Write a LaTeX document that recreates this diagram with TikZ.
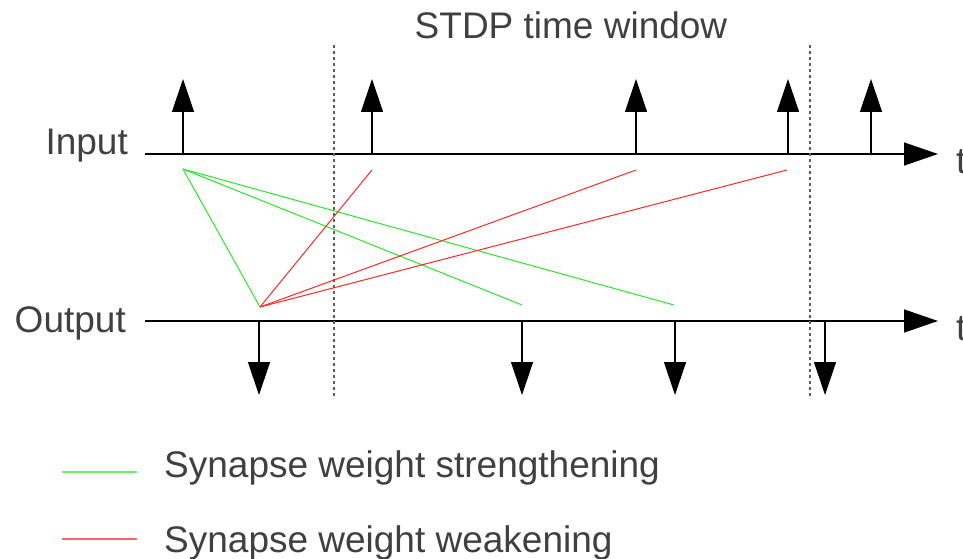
\documentclass[tikz,border=0pt]{standalone}
\usepackage{fontspec}
\setmainfont{Liberation Sans}
\usetikzlibrary{arrows.meta}
\definecolor{txt}{HTML}{404040}
\definecolor{strong}{RGB}{40,230,40}
\definecolor{weak}{RGB}{255,40,40}
\definecolor{legstrong}{RGB}{100,245,100}
\definecolor{legweak}{RGB}{255,100,100}
\definecolor{win}{HTML}{606060}
\begin{document}
\begin{tikzpicture}[x=1pt,y=-1pt,
  lbl/.style={font=\fontsize{37}{44}\selectfont, text=txt, inner sep=0pt},
  axisline/.style={line width=1.4pt, -{Triangle[length=34pt,width=23pt]}},
  spike/.style={line width=1.3pt, -{Triangle[length=33pt,width=22pt]}},
  window/.style={win, line width=1.3pt, dash pattern=on 3pt off 3pt},
  plus/.style={strong, line width=1pt},
  minus/.style={weak, line width=1pt},
  legplus/.style={legstrong, line width=1.8pt},
  legminus/.style={legweak, line width=1.8pt}]
\useasboundingbox (0,0) rectangle (963,559);

% labels
\node[lbl, anchor=base] (title) at (571,39) {STDP time window};
\node[lbl, anchor=base east] (inlbl) at (128,154) {Input};
\node[lbl, anchor=base east] (outlbl) at (126,332) {Output};
\node[lbl, anchor=base west] (tin) at (956,173) {t};
\node[lbl, anchor=base west] (tout) at (956,340) {t};

% axes
\coordinate (in0) at (145,154);
\coordinate (in1) at (938,154);
\coordinate (out0) at (145,321);
\coordinate (out1) at (938,321);
\draw[axisline] (in0) -- (in1);
\draw[axisline] (out0) -- (out1);

% time window
\coordinate (w1a) at (334,45);
\coordinate (w1b) at (334,397);
\coordinate (w2a) at (810,45);
\coordinate (w2b) at (810,397);
\draw[window] (w1a) -- (w1b);
\draw[window] (w2a) -- (w2b);

% input spikes
\foreach \n/\x in {i1/183, i2/372, i3/636, i4/788, i5/871} {
  \coordinate (\n b) at (\x,154);
  \coordinate (\n t) at (\x,79);
  \draw[spike] (\n b) -- (\n t);
}
% output spikes
\foreach \n/\x in {o1/259, o2/522, o3/675, o4/825} {
  \coordinate (\n b) at (\x,321);
  \coordinate (\n t) at (\x,395);
  \draw[spike] (\n b) -- (\n t);
}

% pairings
\coordinate (pin) at (183,169);
\coordinate (pout) at (260,307);
\coordinate (g1) at (522,305);
\coordinate (g2) at (674,305);
\coordinate (r1) at (372,170);
\coordinate (r2) at (636,170);
\coordinate (r3) at (787,170);
\draw[plus] (pin) -- (pout);
\draw[plus] (pin) -- (g1);
\draw[plus] (pin) -- (g2);
\draw[minus] (pout) -- (r1);
\draw[minus] (pout) -- (r2);
\draw[minus] (pout) -- (r3);

% legend
\coordinate (lg1a) at (62,472);
\coordinate (lg1b) at (137,472);
\coordinate (lg2a) at (62,539);
\coordinate (lg2b) at (137,539);
\draw[legplus] (lg1a) -- (lg1b);
\draw[legminus] (lg2a) -- (lg2b);
\node[lbl, anchor=base west] (leg1) at (164,477) {Synapse weight strengthening};
\node[lbl, anchor=base west] (leg2) at (164,552) {Synapse weight weakening};
\end{tikzpicture}
\end{document}
